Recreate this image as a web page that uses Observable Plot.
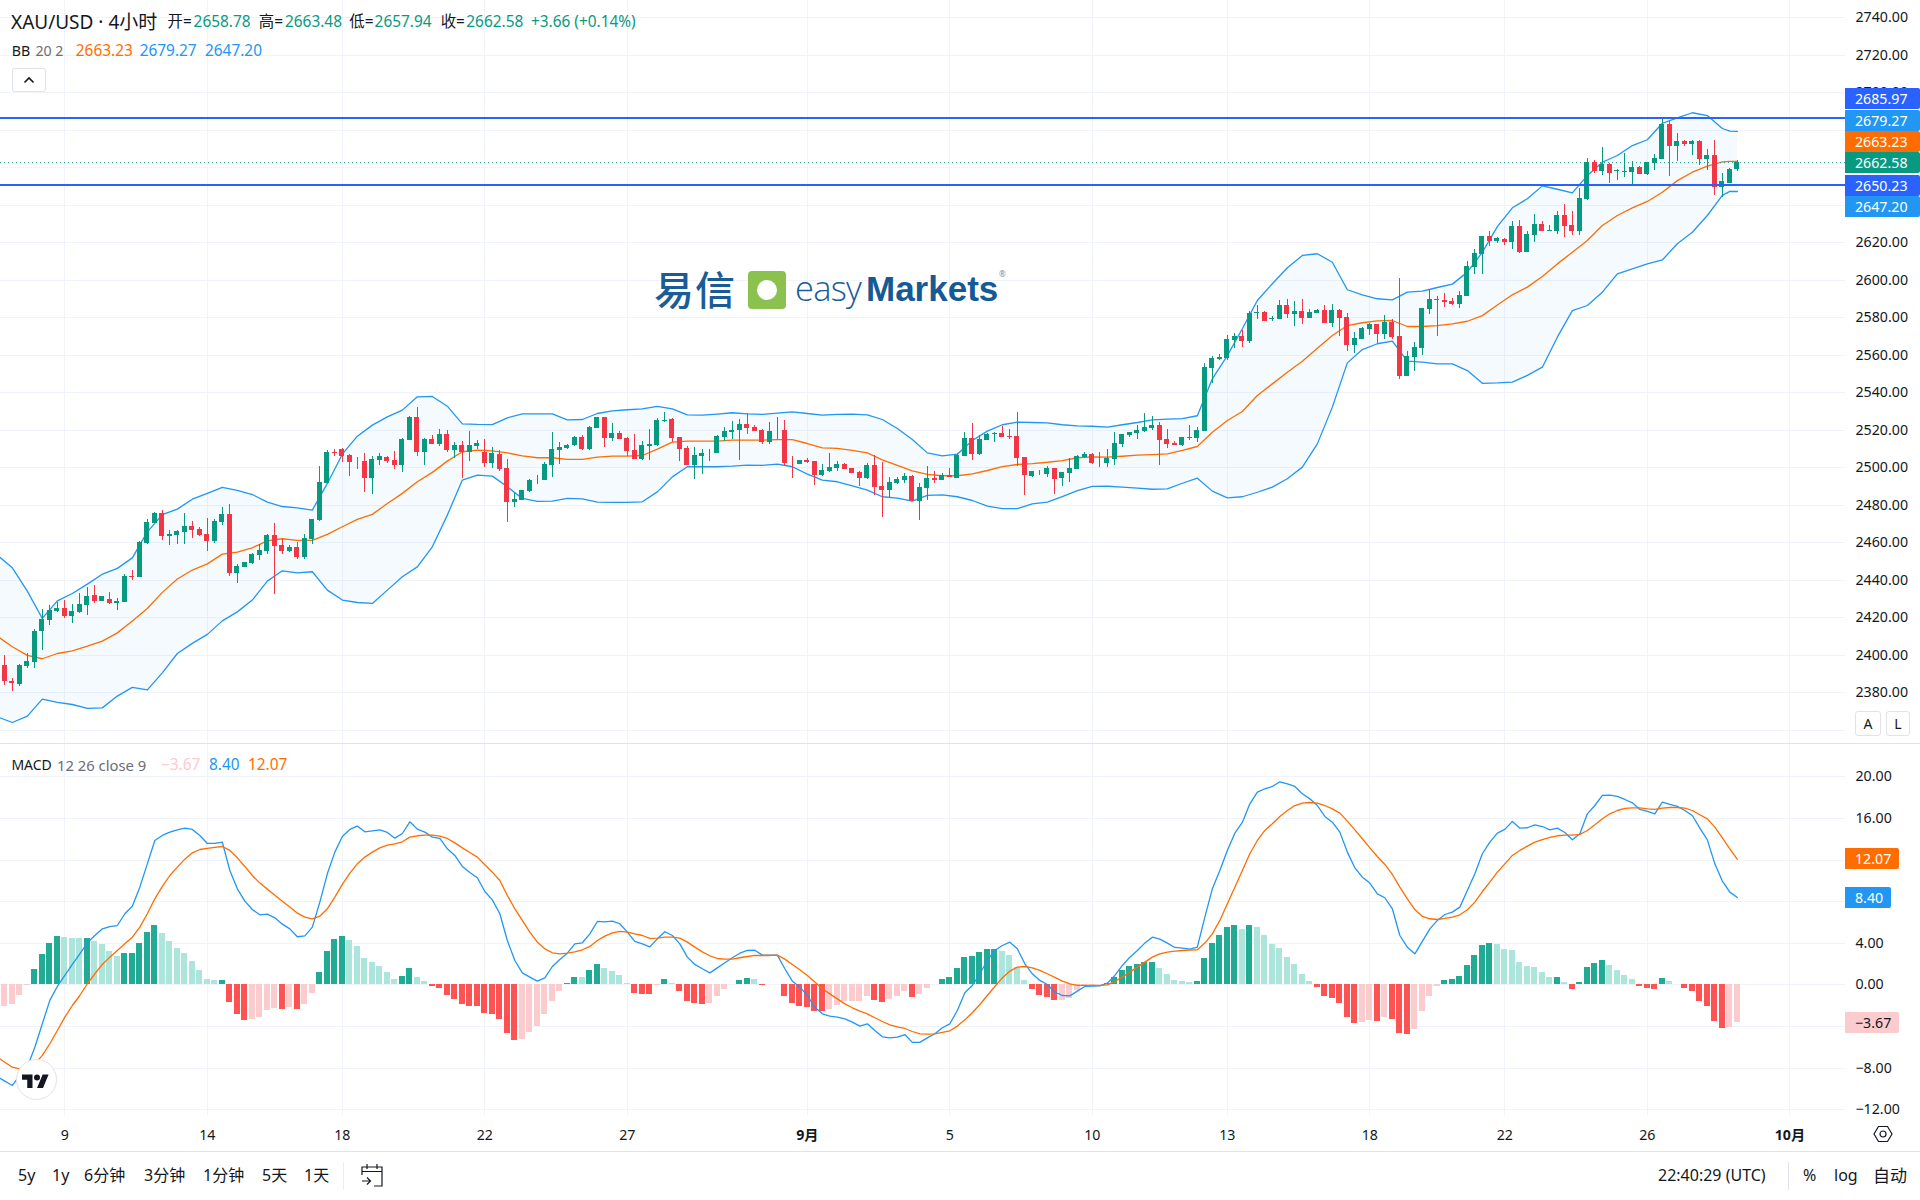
<!DOCTYPE html>
<html>
<head>
<meta charset="utf-8">
<script src="https://cdn.jsdelivr.net/npm/d3@7"></script>
<script src="https://cdn.jsdelivr.net/npm/@observablehq/plot@0.6"></script>
<style>
html,body{margin:0;padding:0;background:#fff;}
#page{position:relative;width:1920px;height:1200px;overflow:hidden;background:#fff;font-family:"Noto Sans","Noto Sans CJK SC",sans-serif;color:#131722;}
#page svg{position:absolute;left:0;}
.t{position:absolute;white-space:nowrap;line-height:1;transform:translateY(-50%);}
.tag{position:absolute;left:1845px;color:#fff;font-size:14.2px;line-height:21px;height:21px;padding-left:10px;box-sizing:border-box;border-radius:0 2px 2px 0;}
.sep{position:absolute;background:#e0e3eb;}
.box{position:absolute;background:#fff;border:1px solid #e0e3eb;border-radius:3px;box-sizing:border-box;display:flex;align-items:center;justify-content:center;}
</style>
</head>
<body>
<div id="page"></div>
<script>
const open = [
2394.6,2386.1,2384.5,2394.1,2396.2,2412.4,2418.6,2423.4,2425.0,2420.7,
2422.9,2426.6,2431.9,2428.7,2429.8,2427.7,2428.2,2441.9,2441.5,2459.7,
2470.3,2475.7,2463.4,2463.9,2465.5,2468.7,2467.1,2464.5,2460.7,2470.9,
2475.1,2443.7,2446.9,2449.0,2453.3,2455.4,2463.9,2458.6,2455.4,2457.5,
2452.2,2461.8,2471.9,2491.7,2508.2,2509.8,2506.6,2503.4,2503.4,2494.3,
2503.9,2505.5,2503.9,2501.3,2514.6,2526.9,2508.2,2515.1,2512.5,2517.8,
2509.3,2511.9,2508.2,2511.4,2508.0,2502.3,2507.1,2499.7,2481.5,2482.6,
2487.4,2493.4,2493.3,2501.3,2509.3,2510.3,2511.9,2516.2,2509.8,2521.0,
2526.9,2515.7,2518.3,2515.7,2509.3,2504.5,2511.4,2511.9,2524.7,2525.8,
2516.2,2510.3,2501.3,2506.1,2507.8,2507.7,2516.2,2518.9,2519.9,2523.1,
2521.5,2519.9,2513.5,2519.6,2519.9,2502.9,2501.8,2503.9,2503.4,2495.9,
2498.1,2499.7,2501.8,2499.7,2497.5,2494.3,2501.3,2490.1,2487.9,2491.7,
2493.3,2495.4,2482.1,2489.0,2494.3,2493.3,2495.9,2494.3,2505.9,2515.5,
2506.9,2514.4,2517.4,2518.1,2516.4,2516.5,2505.3,2495.2,2497.5,2496.3,
2499.5,2494.1,2496.8,2499.0,2505.3,2506.9,2502.5,2502.1,2504.3,2512.3,
2517.1,2518.1,2519.2,2520.8,2522.4,2514.9,2512.8,2511.7,2515.5,2515.5,
2519.2,2552.8,2557.6,2558.1,2567.7,2569.9,2567.2,2582.3,2582.7,2579.1,
2578.9,2586.4,2581.6,2583.2,2579.5,2582.1,2583.7,2576.8,2583.7,2580.0,
2565.1,2568.3,2573.6,2576.3,2570.9,2577.3,2569.9,2548.5,2558.7,2563.5,
2584.3,2589.6,2588.9,2588.5,2586.9,2591.2,2606.7,2613.6,2623.2,2620.5,
2621.6,2620.0,2628.5,2614.6,2623.7,2629.6,2625.9,2625.9,2634.4,2629.0,
2625.9,2642.9,2662.7,2657.9,2661.6,2657.7,2657.5,2657.3,2660.0,2656.3,
2662.1,2664.3,2682.9,2671.2,2673.9,2672.3,2673.9,2664.3,2666.4,2649.3,2651.5,2658.78];
const high = [
2399.9,2387.5,2395.1,2400.8,2413.8,2424.5,2426.6,2428.2,2429.3,2427.1,
2433.0,2436.2,2437.3,2431.4,2433.5,2430.3,2443.1,2445.3,2460.6,2472.5,
2476.2,2477.3,2466.6,2466.6,2475.7,2471.4,2468.2,2473.0,2472.5,2478.9,
2480.5,2448.5,2449.5,2454.3,2459.1,2464.5,2470.3,2461.8,2458.6,2460.2,
2464.5,2472.5,2500.7,2509.3,2509.8,2510.3,2507.1,2505.5,2507.7,2506.1,
2507.7,2506.1,2508.7,2515.7,2527.4,2532.2,2515.7,2517.3,2520.5,2519.9,
2513.5,2514.1,2519.4,2514.6,2515.1,2510.9,2509.3,2504.5,2486.3,2487.9,
2493.8,2495.9,2502.9,2518.9,2513.5,2512.5,2516.7,2517.3,2522.1,2526.9,
2526.9,2523.7,2519.4,2516.2,2517.8,2514.1,2520.5,2526.3,2529.5,2526.3,
2516.2,2511.4,2510.9,2509.8,2509.8,2517.3,2521.5,2524.7,2525.8,2529.0,
2522.6,2520.5,2524.2,2526.9,2525.3,2506.1,2503.9,2505.0,2503.4,2501.8,
2507.7,2503.4,2502.3,2499.7,2498.1,2502.3,2506.6,2502.9,2494.9,2494.9,
2497.0,2495.9,2491.7,2500.7,2498.1,2497.0,2499.7,2507.7,2518.7,2523.5,
2517.1,2518.1,2518.7,2521.9,2520.3,2529.3,2505.3,2497.9,2498.4,2500.5,
2499.5,2497.3,2504.8,2506.4,2508.0,2507.5,2508.0,2509.6,2518.7,2517.6,
2518.7,2522.4,2528.8,2527.2,2524.0,2520.3,2513.9,2516.0,2522.4,2521.3,
2555.5,2559.2,2560.3,2570.4,2571.5,2573.1,2583.2,2586.4,2583.2,2580.6,
2589.1,2589.6,2588.5,2589.6,2584.3,2584.3,2586.4,2586.9,2584.3,2582.1,
2572.0,2574.7,2576.8,2576.3,2581.1,2578.9,2600.8,2561.9,2566.7,2584.8,
2594.9,2591.2,2592.8,2590.1,2593.9,2609.9,2616.3,2623.2,2625.9,2622.7,
2622.1,2631.2,2631.7,2625.9,2634.9,2631.2,2629.0,2636.5,2640.3,2636.5,
2648.8,2664.8,2663.7,2670.7,2662.1,2658.9,2667.5,2663.2,2660.5,2662.7,
2666.9,2685.6,2684.5,2678.1,2674.4,2674.4,2674.4,2669.6,2674.4,2656.8,2659.5,2663.48];
const low = [
2383.9,2380.7,2383.4,2392.6,2393.0,2402.6,2415.9,2422.9,2419.7,2417.0,
2422.3,2421.3,2427.7,2428.7,2427.1,2423.9,2428.2,2439.9,2441.5,2459.1,
2470.3,2461.3,2458.6,2459.1,2459.1,2462.3,2463.4,2455.4,2459.7,2469.3,
2442.1,2438.3,2446.9,2448.5,2450.6,2453.8,2432.5,2453.8,2454.9,2451.1,
2451.1,2459.1,2471.4,2491.7,2506.1,2502.9,2495.4,2499.1,2486.9,2485.8,
2501.3,2502.3,2499.1,2497.5,2514.6,2506.1,2501.3,2512.5,2511.4,2508.2,
2505.0,2494.3,2503.4,2509.8,2500.2,2499.7,2498.1,2470.9,2478.9,2482.6,
2486.9,2491.1,2493.3,2494.9,2501.8,2509.8,2511.4,2509.3,2509.3,2521.0,
2510.9,2514.1,2515.1,2506.1,2504.5,2503.9,2503.9,2511.4,2524.2,2513.5,
2503.4,2501.3,2493.8,2496.5,2503.4,2507.7,2514.1,2515.1,2503.9,2517.8,
2519.4,2512.5,2512.5,2515.1,2500.7,2494.3,2501.8,2502.3,2490.6,2495.4,
2497.5,2498.1,2499.1,2497.0,2490.1,2493.8,2485.3,2473.5,2484.0,2491.1,
2491.7,2482.1,2471.9,2482.6,2491.7,2493.3,2494.9,2494.3,2505.9,2503.7,
2506.4,2514.4,2513.3,2516.0,2514.9,2500.5,2485.1,2494.7,2495.7,2494.7,
2485.6,2489.9,2492.0,2499.0,2504.8,2501.6,2500.0,2500.0,2501.1,2510.7,
2516.0,2514.9,2518.7,2519.7,2501.1,2510.1,2511.7,2511.2,2514.4,2513.3,
2519.2,2544.8,2557.1,2557.1,2563.5,2564.0,2566.1,2578.9,2577.9,2577.9,
2578.9,2579.5,2575.2,2576.3,2579.5,2582.1,2576.8,2574.7,2569.9,2561.9,
2560.8,2568.3,2570.4,2566.1,2568.3,2568.3,2546.9,2548.5,2551.2,2559.7,
2581.6,2569.9,2585.3,2586.4,2584.8,2591.2,2602.9,2602.9,2617.9,2619.5,
2618.4,2616.3,2614.1,2614.6,2620.0,2625.9,2625.9,2624.3,2622.7,2623.7,
2623.7,2642.4,2656.8,2655.7,2651.5,2653.1,2654.7,2650.4,2656.3,2655.7,
2658.4,2664.3,2655.2,2663.2,2671.2,2666.4,2661.1,2658.4,2645.1,2644.0,2651.5,2657.94];
const close = [
2385.7,2384.7,2394.6,2396.7,2412.7,2419.1,2423.9,2425.0,2420.7,2423.4,
2427.1,2431.4,2428.7,2431.4,2427.7,2428.7,2442.1,2441.5,2460.2,2470.9,
2475.7,2463.4,2464.5,2466.1,2468.7,2466.6,2463.9,2460.7,2471.4,2475.1,
2443.7,2447.4,2449.5,2453.8,2455.9,2463.9,2458.1,2455.4,2457.5,2452.2,
2462.3,2472.5,2492.2,2508.2,2507.7,2506.1,2502.9,2503.0,2494.3,2504.5,
2506.1,2503.4,2501.3,2515.1,2526.9,2508.2,2515.1,2512.5,2517.8,2509.3,
2511.9,2508.2,2511.9,2513.0,2502.3,2507.7,2499.1,2481.5,2483.1,2487.9,
2493.3,2493.8,2501.8,2509.8,2510.9,2511.9,2516.2,2509.8,2521.5,2526.9,
2515.7,2518.3,2515.1,2508.7,2504.5,2511.9,2512.5,2525.3,2525.3,2515.7,
2509.8,2501.3,2506.6,2507.7,2508.2,2516.7,2519.4,2519.9,2523.1,2521.0,
2519.4,2513.5,2519.4,2519.9,2502.3,2502.5,2503.9,2502.9,2495.9,2498.6,
2500.2,2501.8,2499.1,2497.0,2494.3,2501.3,2489.5,2487.9,2492.2,2493.8,
2495.4,2482.1,2489.5,2494.3,2493.3,2495.9,2494.9,2506.6,2515.5,2506.9,
2514.9,2517.6,2518.1,2516.0,2516.0,2504.8,2495.7,2497.9,2497.2,2499.5,
2493.6,2497.3,2499.5,2505.9,2506.9,2502.1,2502.8,2504.8,2512.8,2517.6,
2518.7,2519.7,2521.3,2522.4,2514.4,2512.3,2511.7,2516.0,2516.0,2519.7,
2553.3,2558.1,2558.7,2568.3,2569.9,2567.2,2582.1,2582.7,2577.9,2579.5,
2586.4,2581.6,2583.2,2579.5,2582.7,2583.7,2576.8,2583.7,2579.5,2565.1,
2568.8,2574.1,2576.3,2570.9,2577.3,2569.3,2548.5,2559.2,2564.0,2584.8,
2589.6,2589.2,2588.2,2586.9,2591.7,2607.2,2614.1,2623.2,2620.5,2622.1,
2620.0,2628.5,2614.6,2624.2,2629.6,2625.9,2626.2,2634.4,2628.5,2625.9,
2643.5,2662.7,2657.9,2661.6,2656.8,2658.2,2657.9,2660.0,2656.3,2662.7,
2664.8,2682.9,2671.2,2673.9,2672.3,2673.9,2664.3,2666.4,2649.3,2652.5,2658.9,2662.58];

// Bollinger bands, read at every second bar (bars -1, 1, 3, ... 229), then bars 230 and 231
const bbUpper = [
2453.3,2446.5,2434.1,2419.5,2428.9,2432.8,2437.8,2443.1,2446.2,2451.8,
2465.7,2474.9,2477.8,2483.1,2486.2,2489.4,2487.8,2485.6,2481.5,2479.2,
2478.5,2477.3,2491.5,2507.1,2516.7,2522.6,2527.0,2530.6,2537.7,2537.9,
2532.7,2523.3,2523.0,
2522.9,2526.5,2528.6,2528.6,2528.6,2525.4,2525.6,2528.8,2530.2,2530.8,2531.3,2532.6,2531.3,2528.1,2527.9,2528.5,
2529.2,2528.6,2528.3,2529.0,2529.7,2528.8,2527.9,2528.3,2528.5,2528.1,2525.6,2520.8,2514.9,2507.8,2506.2,2507.1,
2514.4,2519.4,2522.8,2524.2,2524.0,2523.8,2522.8,2522.2,2522.0,2521.5,2522.8,2524.0,2525.4,2525.8,2526.1,2527.6,
2547.3,2559.7,2574.0,2589.1,2598.0,2606.5,2613.1,2614.0,2609.5,2594.8,2592.1,2590.0,2589.4,2593.5,2594.1,2596.0,
2597.8,2604.2,2614.8,2628.5,2638.5,2643.3,2650.2,2648.4,2646.5,2655.7,2662.8,2666.4,2671.7,2674.8,2683.6,2686.5,2689.2,2687.7,2680.8,2679.4,2679.27];
const bbBasis = [
2410.0,2404.4,2399.8,2398.0,2400.8,2402.2,2404.7,2407.4,2411.8,2418.1,
2424.8,2433.4,2440.5,2445.3,2448.6,2453.8,2454.9,2457.2,2460.9,2462.0,
2461.1,2461.1,2464.3,2468.4,2472.3,2475.0,2480.8,2486.2,2492.4,2497.4,
2503.4,2508.4,2509.3,
2508.9,2507.8,2506.2,2505.2,2505.2,2504.3,2504.3,2505.5,2506.1,2506.1,2506.4,2509.8,2513.5,2514.1,2514.1,2514.1,
2514.6,2514.6,2514.6,2514.9,2514.9,2512.8,2510.5,2510.2,2509.1,2507.8,2504.1,2501.1,2498.2,2496.3,2495.6,2495.6,
2496.6,2498.4,2500.5,2501.6,2502.1,2502.8,2503.7,2505.2,2505.7,2505.5,2506.0,2506.6,2506.9,2507.3,2509.1,2511.2,
2518.8,2525.1,2529.9,2538.4,2544.6,2550.8,2556.7,2563.6,2570.4,2575.7,2577.2,2578.2,2578.4,2575.2,2575.2,2575.7,
2576.6,2578.0,2581.0,2586.7,2592.1,2596.2,2601.9,2608.6,2614.8,2621.1,2629.1,2634.4,2638.5,2641.9,2646.8,2653.0,2657.5,2660.7,2663.0,2663.3,2663.23];
const bbLower = [
2367.0,2364.0,2367.4,2376.5,2374.7,2373.6,2371.5,2371.8,2378.1,2382.7,
2381.4,2390.5,2400.8,2406.2,2411.0,2418.2,2423.0,2429.3,2439.4,2444.9,
2443.8,2444.4,2434.6,2429.3,2428.0,2427.5,2434.6,2441.7,2447.0,2457.7,
2474.6,2493.3,2495.9,
2495.4,2489.7,2483.5,2481.9,2482.1,2483.5,2483.3,2481.5,2481.4,2481.4,2481.7,2487.0,2495.0,2500.4,2500.4,2500.4,
2500.7,2501.3,2501.1,2501.8,2500.4,2496.5,2493.3,2492.4,2490.2,2487.9,2484.4,2483.7,2482.1,2485.1,2485.4,2484.4,
2482.4,2479.4,2478.1,2478.1,2480.6,2481.5,2484.5,2487.7,2489.9,2490.0,2489.5,2489.0,2488.4,2488.6,2491.6,2494.3,
2487.4,2483.8,2484.4,2486.8,2489.5,2494.0,2500.2,2512.6,2532.2,2555.8,2562.9,2566.0,2567.4,2556.7,2556.2,2555.3,
2555.3,2551.7,2544.9,2545.1,2545.5,2549.1,2553.5,2569.5,2583.7,2586.4,2593.5,2603.3,2605.9,2608.6,2610.7,2619.3,2625.5,2634.4,2645.1,2647.3,2647.20];

const macdHist = [
-2.05,-1.86,-1.0,-0.1,1.5,2.95,4.0,4.68,4.58,4.5,
4.48,4.49,4.2,3.91,3.24,2.76,3.04,3.04,4.0,5.06,
5.74,4.97,4.2,3.53,3.04,2.28,1.41,0.54,0.45,0.45,
-1.67,-2.82,-3.4,-3.3,-3.11,-2.44,-2.24,-2.34,-2.15,-2.34,
-1.86,-0.8,1.22,3.24,4.39,4.68,4.29,3.72,2.56,2.18,
1.79,1.22,0.54,0.83,1.6,0.74,0.35,-0.13,-0.32,-1.0,
-1.38,-1.86,-2.05,-2.05,-2.72,-2.82,-3.3,-4.65,-5.32,-5.22,
-4.55,-3.97,-2.82,-1.57,-0.6,0.16,0.75,0.74,1.41,1.99,
1.6,1.31,0.93,0.16,-0.8,-0.9,-0.9,-0.05,0.54,0.16,
-0.6,-1.57,-1.76,-1.86,-1.76,-1.09,-0.42,0.06,0.45,0.64,
0.54,-0.05,0.03,0.03,-1.09,-1.76,-2.05,-2.15,-2.53,-2.53,
-2.34,-1.96,-1.58,-1.57,-1.56,-1.09,-1.47,-1.67,-1.38,-1.09,
-0.6,-1.19,-0.9,-0.32,0.06,0.54,0.74,1.6,2.66,2.76,
3.14,3.43,3.43,3.24,2.85,1.7,0.45,-0.42,-1.0,-1.19,
-1.48,-1.47,-1.28,-0.51,-0.1,-0.02,0.03,0.16,0.74,1.41,
1.79,1.99,2.18,2.18,1.6,1.03,0.45,0.35,0.26,0.35,
2.56,4.0,4.78,5.54,5.74,5.35,5.74,5.54,4.78,3.91,
3.53,2.66,1.99,1.03,0.35,-0.22,-1.09,-1.28,-1.76,-3.11,
-3.69,-3.59,-3.4,-3.49,-3.11,-3.3,-4.65,-4.74,-4.26,-2.53,
-1.09,-0.13,0.45,0.54,0.83,1.89,2.85,3.81,4.0,3.91,
3.43,3.33,2.18,1.79,1.7,1.22,0.74,0.74,0.26,-0.42,
0.26,1.7,2.08,2.37,1.89,1.41,0.93,0.54,-0.13,-0.32,
-0.42,0.64,0.35,0.06,-0.32,-0.6,-1.57,-2.05,-3.49,-4.17,-4.07,-3.67];

// MACD and signal: bars -1, 0, 1, ... 231
const macdLine = [
-8.84,-9.26,-9.68,-8.72,-7.9,-6.0,-3.75,-1.5,-0.16,0.9,1.96,
2.98,4.04,4.74,5.38,5.6,5.7,6.83,7.56,9.39,11.63,
13.88,14.36,14.68,14.9,15.06,14.94,14.36,13.59,13.59,13.72,
10.99,9.23,8.04,7.24,6.73,6.79,6.44,5.83,5.38,4.62,
4.71,5.54,7.95,10.67,12.76,14.26,14.94,15.26,14.71,14.81,
14.9,14.65,14.1,14.55,15.67,14.97,14.68,14.2,14.07,13.08,
12.44,11.38,10.8,10.29,8.97,8.17,6.83,4.26,2.34,1.15,
0.74,0.35,0.67,1.76,2.44,3.04,3.94,4.04,4.9,6.09,
6.06,6.12,5.87,5.06,4.17,3.94,3.65,4.42,5.1,4.74,
3.94,2.66,1.96,1.54,1.15,1.63,2.12,2.6,3.04,3.3,
3.33,2.85,2.85,2.85,1.54,0.35,-0.22,-1.03,-2.15,-2.79,
-3.01,-3.11,-3.27,-3.59,-3.97,-3.75,-4.39,-5.0,-5.1,-5.03,
-4.78,-5.54,-5.54,-5.1,-4.71,-4.13,-3.75,-2.47,-0.77,-0.06,
1.06,2.34,3.3,3.78,4.1,3.46,2.02,1.06,0.42,0.03,
-0.71,-1.03,-1.06,-0.61,-0.16,-0.13,-0.1,0.16,0.9,1.86,
2.66,3.3,4.01,4.58,4.39,4.01,3.59,3.53,3.43,3.62,
6.51,9.23,10.99,12.92,14.58,15.61,17.4,18.53,18.85,19.07,
19.52,19.33,19.07,18.37,17.88,17.24,16.19,15.64,14.68,12.76,
11.25,10.35,9.78,8.75,8.37,7.31,4.74,3.62,2.98,4.17,
5.38,6.19,6.76,6.99,7.47,9.07,10.67,12.6,13.72,14.58,
14.94,15.71,15.06,15.1,15.38,15.22,14.9,15.06,14.65,13.94,
14.52,16.44,17.24,18.21,18.24,18.11,17.82,17.5,16.86,16.67,
16.44,17.56,17.34,17.15,16.76,16.28,15.06,13.94,11.63,9.97,8.91,8.40];
const signalLine = [
-6.96,-7.44,-7.92,-8.08,-8.01,-7.6,-6.79,-5.67,-4.39,-3.11,-1.99,
-1.03,0.1,1.06,1.96,2.66,3.3,3.94,4.58,5.54,6.83,
8.27,9.46,10.51,11.31,12.08,12.69,13.01,13.11,13.21,13.3,
12.92,12.21,11.38,10.51,9.78,9.2,8.62,8.04,7.47,6.89,
6.51,6.35,6.6,7.31,8.43,9.65,10.74,11.63,12.28,12.76,
13.17,13.43,13.56,13.75,14.2,14.33,14.39,14.39,14.29,14.07,
13.65,13.17,12.72,12.28,11.54,10.83,10.03,8.59,7.31,6.19,
5.06,4.1,3.46,3.08,2.98,3.04,3.17,3.37,3.69,4.26,
4.68,5.0,5.13,5.06,4.9,4.74,4.46,4.49,4.58,4.58,
4.49,4.1,3.62,3.17,2.79,2.53,2.47,2.47,2.6,2.72,
2.82,2.82,2.82,2.85,2.47,1.96,1.44,0.9,0.26,-0.38,
-0.87,-1.35,-1.83,-2.21,-2.53,-2.79,-3.17,-3.53,-3.85,-4.04,
-4.2,-4.49,-4.71,-4.74,-4.71,-4.58,-4.42,-3.97,-3.37,-2.69,
-1.89,-1.03,-0.16,0.67,1.31,1.7,1.76,1.63,1.38,1.06,
0.71,0.35,0.1,-0.06,-0.06,-0.06,-0.06,0,0.32,0.74,
1.22,1.7,2.18,2.66,2.98,3.14,3.24,3.3,3.33,3.37,
4.01,4.9,6.19,7.79,9.39,10.99,12.6,13.88,14.84,15.48,
16.19,16.76,17.24,17.47,17.53,17.47,17.24,16.92,16.51,15.74,
14.9,14.04,13.17,12.34,11.57,10.61,9.39,8.27,7.24,6.57,
6.35,6.28,6.38,6.51,6.73,7.21,7.95,8.97,9.87,10.83,
11.63,12.44,12.92,13.33,13.72,13.97,14.17,14.33,14.39,14.39,
14.46,14.84,15.38,15.96,16.44,16.76,16.96,17.02,17.02,16.92,
16.86,16.99,17.05,17.05,16.99,16.76,16.35,15.96,15.16,14.13,13.08,12.07];

// labels hidden behind the value tags in the reference are left out of the axis lists
const priceTicks = [2380,2400,2420,2440,2460,2480,2500,2520,2540,2560,2580,2600,2620,2680,2700,2720,2740];
const priceGrid = [2360,2380,2400,2420,2440,2460,2480,2500,2520,2540,2560,2580,2600,2620,2640,2660,2680,2700,2720,2740];
const macdGrid = [-12,-8,-4,0,4,8,12,16,20];
const macdTicks = [-12,-8,0,4,16,20];
const dateBars = [8,27,45,64,83,107,126,145,163,182,200,219,238];
const dateLabels = ["9","14","18","22","27","9月","5","10","13","18","22","26","10月"];
const keyLevels = [2685.97,2650.23];
const lastPrice = 2662.58;

const C = {grid:"#f0f3fa",up:"#089981",down:"#f23645",blue:"#2196f3",orange:"#ff6d00",level:"#2962ff",
           histUp:"#22ab94",histUpL:"#ace5dc",histDn:"#ff5252",histDnL:"#fccbcd",text:"#131722"};

const bars = open.map((o,i)=>({i,o,h:high[i],l:low[i],c:close[i]}));
const bands = bbUpper.map((u,k)=>({i:k<116?2*k-1:k+114,u,m:bbBasis[k],l:bbLower[k]}));
const lines = macdLine.map((m,k)=>({i:k-1,m,s:signalLine[k]}));
const hist = macdHist.map((v,i)=>({i,v,color:v>=0
   ? (i>0&&v>=macdHist[i-1]?C.histUp:C.histUpL)
   : (i>0&&v<=macdHist[i-1]?C.histDn:C.histDnL)}));
const dates = dateBars.map((b,k)=>({b,t:dateLabels[k]}));

const xScale = {axis:null,domain:[-0.5773,245.42],range:[0,1845]};
const base = {width:1920,marginLeft:0,marginRight:75,marginTop:0,x:xScale,
  style:{background:"transparent",fontFamily:'"Noto Sans","Noto Sans CJK SC",sans-serif',overflow:"visible"}};

const pricePlot = Plot.plot({...base,height:743,marginBottom:0,
  y:{domain:[2352.8,2749.07],range:[743,0]},
  marks:[
    Plot.ruleY(priceGrid,{stroke:C.grid,shapeRendering:"crispEdges"}),
    Plot.ruleX(dateBars,{stroke:C.grid,shapeRendering:"crispEdges"}),
    Plot.axisY(priceTicks,{anchor:"right",tickSize:0,tickPadding:10,fontSize:14.2,fill:C.text,label:null,tickFormat:d3.format(".2f")}),
    Plot.areaY(bands,{x:"i",y1:"l",y2:"u",fill:C.blue,fillOpacity:0.05,clip:true}),
    Plot.line(bands,{x:"i",y:"u",stroke:C.blue,strokeWidth:1.3,clip:true}),
    Plot.line(bands,{x:"i",y:"l",stroke:C.blue,strokeWidth:1.3,clip:true}),
    Plot.line(bands,{x:"i",y:"m",stroke:C.orange,strokeWidth:1.3,clip:true}),
    Plot.ruleY([lastPrice],{stroke:C.up,strokeDasharray:"1 3"}),
    Plot.ruleX(bars,{x:"i",y1:"l",y2:"h",stroke:d=>d.c>=d.o?C.up:C.down,strokeWidth:1,shapeRendering:"crispEdges"}),
    Plot.rect(bars,{x1:d=>d.i-0.34,x2:d=>d.i+0.34,y1:d=>Math.min(d.o,d.c),y2:d=>Math.max(d.o,d.c),
      fill:d=>d.c>=d.o?C.up:C.down,shapeRendering:"crispEdges"}),
    Plot.ruleY(keyLevels,{stroke:C.level,strokeWidth:2,dy:-1,shapeRendering:"crispEdges"})
  ]});

const macdPlot = Plot.plot({...base,height:407,marginBottom:36,
  y:{domain:[-12.567,23.106],range:[371,0]},
  marks:[
    Plot.ruleY(macdGrid,{stroke:C.grid,shapeRendering:"crispEdges"}),
    Plot.ruleX(dateBars,{stroke:C.grid,shapeRendering:"crispEdges"}),
    Plot.axisY(macdTicks,{anchor:"right",tickSize:0,tickPadding:10,fontSize:14.2,fill:C.text,label:null,tickFormat:d3.format(".2f")}),
    Plot.rectY(hist,{x1:d=>d.i-0.41,x2:d=>d.i+0.41,y:"v",fill:"color",shapeRendering:"crispEdges"}),
    Plot.line(lines,{x:"i",y:"m",stroke:C.blue,strokeWidth:1.3,clip:true}),
    Plot.line(lines,{x:"i",y:"s",stroke:C.orange,strokeWidth:1.3,clip:true}),
    Plot.text(dates.filter(d=>!d.t.includes("月")),{x:"b",text:"t",frameAnchor:"bottom",dy:24,fontSize:14.2,fill:C.text}),
    Plot.text(dates.filter(d=>d.t.includes("月")),{x:"b",text:"t",frameAnchor:"bottom",dy:24,fontSize:14.2,fill:C.text,fontWeight:700})
  ]});

const page = document.getElementById("page");
pricePlot.style.top="0px"; macdPlot.style.top="744px";
page.append(pricePlot,macdPlot);

function addT(text,x,y,size,color,extra){
  const e=document.createElement("div");e.className="t";e.textContent=text;
  e.style.cssText=`left:${x}px;top:${y}px;font-size:${size}px;color:${color};${extra||""}`;
  page.append(e);return e;
}
function addTag(text,top,bg,fg,width){
  const e=document.createElement("div");e.className="tag";e.textContent=text;
  e.style.cssText=`top:${top}px;background:${bg};color:${fg||"#fff"};width:${width||75}px;`;
  page.append(e);
}
function addBlock(cls,x,y,w,h,extra,html){
  const e=document.createElement("div");e.className=cls;
  e.style.cssText=`left:${x}px;top:${y}px;width:${w}px;height:${h}px;${extra||""}`;
  if(html)e.innerHTML=html;page.append(e);
}

// separators
addBlock("sep",0,743,1920,1);
addBlock("sep",0,1151,1920,1);
addBlock("sep",343,1162,1,28,"background:#eceef3;");
addBlock("sep",1788,1162,1,28,"background:#e0e3eb;");

// header
const G=C.up, H=15.4;
addT("XAU/USD · 4小时",11,21.5,19,C.text);
[["开=",167.5,"2658.78",193.6],["高=",258.8,"2663.48",285],["低=",349.3,"2657.94",374.6],["收=",440.7,"2662.58",466.3]]
 .forEach(([a,x,b,x2])=>{addT(a,x,21.5,H,C.text);addT(b,x2,21.5,H,G);});
addT("+3.66 (+0.14%)",531,21.5,H,G);
addT("BB",11.8,50.5,14.2,C.text);
addT("20 2",35.4,50.5,14.2,"#6a6d78");
addT("2663.23",75.8,50.5,H,C.orange);
addT("2679.27",139.7,50.5,H,C.blue);
addT("2647.20",205,50.5,H,C.blue);
addBlock("box",12,68,34,24,"background:#fff;",
 '<svg width="12" height="8" viewBox="0 0 12 8" style="position:static"><path d="M1.5 6.5L6 2l4.5 4.5" fill="none" stroke="#131722" stroke-width="1.6"/></svg>');

// MACD legend
addT("MACD",11.4,764.5,14,C.text);
addT("12 26 close 9",57,764.5,14.8,"#6a6d78");
addT("−3.67",161,764.5,H,C.histDnL);
addT("8.40",209,764.5,H,C.blue);
addT("12.07",248,764.5,H,C.orange);

// price tags
addTag("2685.97",88,C.level);
addTag("2679.27",109.5,C.blue);
addTag("2663.23",131,C.orange);
addTag("2662.58",152,C.up);
addTag("2650.23",175,C.level);
addTag("2647.20",196,C.blue);
addTag("12.07",848,C.orange,"#fff",54);
addTag("8.40",887,C.blue,"#fff",46);
addTag("−3.67",1012,C.histDnL,C.text,54);

// A / L buttons
addBlock("box",1855,711,26,25,"font-size:14px;","A");
addBlock("box",1886,711,24,25,"font-size:14px;","L");

// settings hexagon
addBlock("t",1873,1134,20,20,"",'<svg width="20" height="20" viewBox="0 0 20 20" style="position:static;display:block"><path d="M5.5 2.5h9L19 10l-4.5 7.5h-9L1 10z" fill="none" stroke="#131722" stroke-width="1.2"/><circle cx="10" cy="10" r="3" fill="none" stroke="#131722" stroke-width="1.2"/></svg>');

// TV logo
addBlock("",15.5,1059,41,41,"position:absolute;background:#fff;border:1.5px solid #e0e3eb;border-radius:50%;box-sizing:border-box;");
addBlock("",22,1073,27,15,"position:absolute;",'<svg width="27" height="15" viewBox="0 0 36 20" style="position:static;display:block"><path d="M14 20H7V9H0V2h14v18zM28 20h-8l7.5-18h8L28 20z" fill="#131722"/><circle cx="20" cy="6" r="4" fill="#131722"/></svg>');

// watermark
addT("易信",654,290,40,"#1a5c96","font-weight:500;letter-spacing:1px;");
addBlock("",748,271,38,38,"position:absolute;background:#8bc14e;border-radius:4px;");
addBlock("",757,280,20,20,"position:absolute;background:#fff;border-radius:50%;");
addT("easy",795,288,34.5,"#1a5c96",'font-family:"Open Sans",sans-serif;font-weight:300;letter-spacing:-0.8px;');
addT("Markets",866,288,35,"#155a94",'font-family:"Liberation Sans",sans-serif;font-weight:700;letter-spacing:0px;');
addT("®",999,274,8,"#6d8fb0");

// bottom bar
const B=16;
[["5y",18],["1y",52],["6分钟",84],["3分钟",144],["1分钟",203],["5天",262],["1天",304]].forEach(([t,x])=>addT(t,x,1175,B,C.text));
addBlock("",360,1163,24,24,"position:absolute;",'<svg width="24" height="24" viewBox="0 0 24 24" style="position:static;display:block"><path d="M2 12V4h20v19h-8M2 8.5h20M7 1v5M17 1v5M2 18h8M7 14.5l3.5 3.5L7 21.5" fill="none" stroke="#131722" stroke-width="1.2"/></svg>');
addT("22:40:29 (UTC)",1658,1175,B,C.text);
addT("%",1803,1175,B,C.text);
addT("log",1834,1175,B,C.text);
addT("自动",1873,1175,B+1,C.text);
</script>
</body>
</html>
